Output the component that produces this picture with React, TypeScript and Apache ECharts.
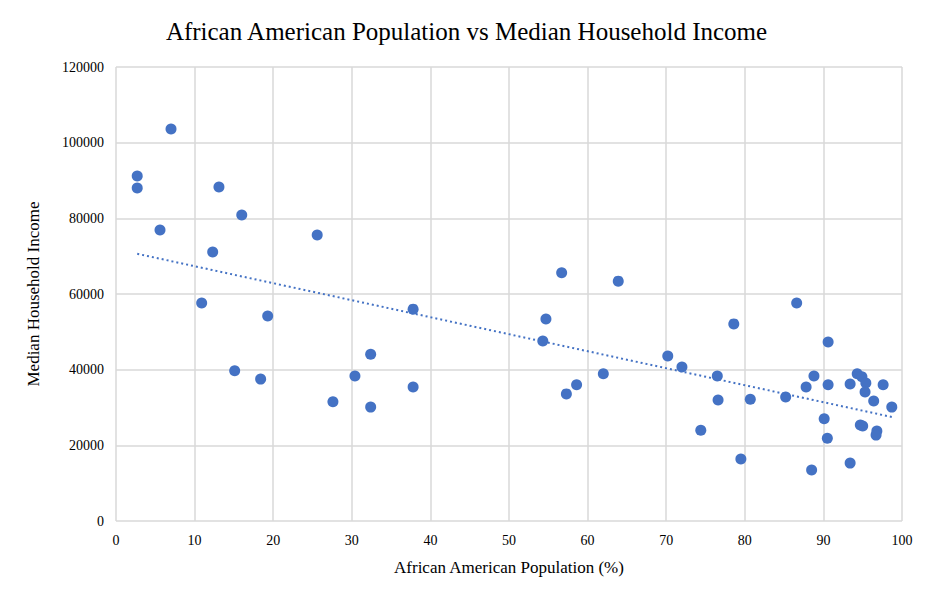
import { useEffect, useRef } from 'react';
import * as echarts from 'echarts';

const popPct = [2.7, 2.7, 7.0, 5.6, 13.1, 16.0, 12.3, 10.9, 19.3, 15.1, 18.4, 25.6, 27.6, 30.4, 32.4, 32.4, 37.8, 37.8,
  54.3, 54.7, 56.7, 57.3, 58.6, 62.0, 63.9, 70.2, 72.0, 74.4, 76.5, 76.6, 78.6, 79.5, 80.7, 85.2, 86.6, 87.8, 88.8,
  88.5, 90.1, 90.6, 90.6, 90.5, 93.4, 93.4, 94.3, 94.9, 95.4, 95.3, 94.7, 95.0, 96.4, 96.8, 96.7, 97.6, 98.7];
const income = [91200, 88000, 103600, 76900, 88300, 80900, 71100, 57600, 54200, 39700, 37500, 75600, 31500, 38300,
  44100, 30100, 56000, 35400, 47600, 53400, 65600, 33600, 36000, 38900, 63400, 43600, 40700, 24000, 38300, 32000,
  52100, 16400, 32200, 32800, 57600, 35400, 38300, 13500, 27000, 36000, 47300, 21900, 15300, 36200, 38900, 38100,
  36500, 34100, 25400, 25100, 31700, 23800, 22700, 36000, 30100];

function trend(): number[][] {
  const n = popPct.length;
  const mx = popPct.reduce((a, b) => a + b, 0) / n;
  const my = income.reduce((a, b) => a + b, 0) / n;
  let sxy = 0, sxx = 0;
  popPct.forEach((x, i) => { sxy += (x - mx) * (income[i] - my); sxx += (x - mx) * (x - mx); });
  const b = sxy / sxx;
  const a = my - b * mx;
  const x0 = Math.min(...popPct), x1 = Math.max(...popPct);
  return [[x0, a + b * x0], [x1, a + b * x1]];
}

const FONT = '"Liberation Serif", "Times New Roman", serif';

export default function App() {
  const ref = useRef<HTMLDivElement | null>(null);

  useEffect(() => {
    document.body.style.margin = '0';
    if (!ref.current) return;
    const chart = echarts.init(ref.current, undefined, { renderer: 'svg' });
    chart.setOption({
      animation: false,
      title: {
        text: 'African American Population vs Median Household Income',
        left: 'center', top: 14,
        textStyle: { fontFamily: FONT, fontSize: 25, fontWeight: 'normal', color: '#000' }
      },
      grid: { left: 116, right: 31, top: 67, bottom: 79 },
      xAxis: {
        type: 'value', min: 0, max: 100, interval: 10,
        name: 'African American Population (%)', nameLocation: 'middle', nameGap: 38,
        nameTextStyle: { fontFamily: FONT, fontSize: 17, color: '#000' },
        axisLine: { show: false }, axisTick: { show: false },
        axisLabel: { fontFamily: FONT, fontSize: 14, color: '#000', margin: 12 },
        splitLine: { lineStyle: { color: '#d9d9d9', width: 1.5 } }
      },
      yAxis: {
        type: 'value', min: 0, max: 120000, interval: 20000,
        name: 'Median Household Income', nameLocation: 'middle', nameGap: 74,
        nameTextStyle: { fontFamily: FONT, fontSize: 17, color: '#000' },
        axisLine: { show: false }, axisTick: { show: false },
        axisLabel: { fontFamily: FONT, fontSize: 14, color: '#000', margin: 12, formatter: (v: number) => String(v) },
        splitLine: { lineStyle: { color: '#d9d9d9', width: 1.5 } }
      },
      series: [
        {
          type: 'scatter', symbolSize: 11,
          itemStyle: { color: '#4472C4', opacity: 1 },
          data: popPct.map((x, i) => [x, income[i]])
        },
        {
          type: 'line', data: trend(), symbol: 'none',
          lineStyle: { color: '#4472C4', width: 2, type: [2, 3] }
        }
      ]
    });
    return () => chart.dispose();
  }, []);

  return <div ref={ref} style={{ width: 933, height: 600 }} />;
}
